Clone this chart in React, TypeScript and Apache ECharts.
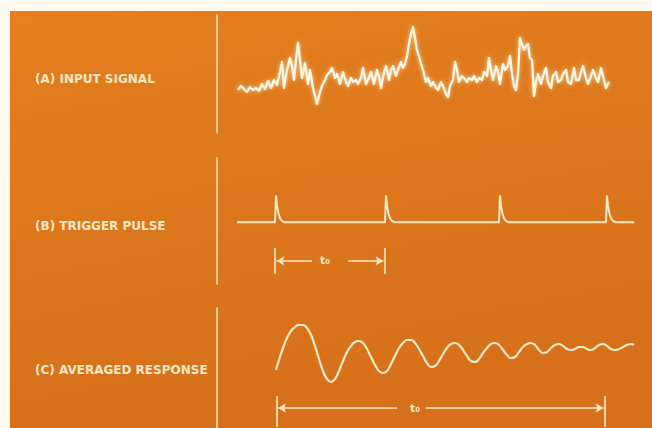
import React, { useEffect, useRef } from "react";
import * as echarts from "echarts";

// ---- Panel A: input signal (time units, amplitude units) ----
const A_TIME = [21,24,27,30,33,36,39,42,45,48,51,54,57,60,63,65,67,70,73,75,77,79,81,83,85,88,91,93,96,98,100,103,105,108,110,113,115,118,120,123,126,129,131,134,136,139,141,144,146,149,151,154,157,160,162,164,167,169,172,174,176,179,181,184,186,188,190,192,194,196,198,200,202,204,206,209,211,214,216,219,221,224,226,229,231,233,236,238,240,242,245,247,250,252,255,257,260,262,265,267,270,272,274,276,279,281,283,286,288,291,293,295,297,299,301,303,305,307,309,311,313,315,317,319,321,324,326,329,331,334,336,339,341,344,346,349,351,354,357,359,362,364,366,369,371,374,376,379,381,384,386,389,392];
const A_VALUE = [-0.8,-0.4,-0.7,-1.0,-0.5,-0.8,-0.6,-0.9,-0.2,-0.7,0.1,-0.6,0.2,-0.3,1.0,2.0,-0.6,1.2,2.4,1.6,0.2,2.2,3.9,2.2,0.4,1.9,-0.2,1.2,-0.6,-1.4,-2.2,-1.0,-0.4,0.2,0.7,1.0,1.4,0.4,0.8,-0.2,1.0,0.0,-0.4,0.4,0.0,0.2,-0.2,0.4,1.4,-0.2,0.2,1.0,-0.2,1.2,0.6,-0.6,1.0,1.6,0.2,1.2,1.6,0.6,1.2,2.0,1.4,1.8,2.6,3.8,4.8,5.5,4.4,3.2,2.6,1.8,1.2,0.0,0.4,-0.4,0.0,-0.6,-0.8,0.0,-0.4,-1.2,-1.5,-0.4,0.2,2.0,1.2,0.0,0.6,0.4,0.0,0.4,0.2,0.6,0.0,0.4,0.2,1.0,0.6,2.4,1.2,0.2,1.6,1.0,-0.2,1.8,1.2,1.6,2.6,0.8,-0.4,-0.8,0.8,4.4,3.8,3.2,3.6,3.8,2.4,2.2,-1.4,0.0,0.8,-0.2,0.6,1.4,0.0,-0.6,0.6,1.0,0.0,0.2,0.8,1.2,0.0,-0.2,1.4,0.2,0.2,1.0,1.6,0.4,-0.2,0.6,1.2,0.4,0.0,1.4,0.6,-0.6,0.0];

// ---- Panel B: trigger pulses ----
const B_TIME = [20,58,59,60,61.5,63,65,68,168,169,170,171.5,173,175,178,282,283,284,285.5,287,289,292,389,390,391,392.5,394,396,399,417];
const B_VALUE = [0,0,1.0,0.62,0.32,0.15,0.05,0,0,1.0,0.62,0.32,0.15,0.05,0,0,1.0,0.62,0.32,0.15,0.05,0,0,1.0,0.62,0.32,0.15,0.05,0,0];

// ---- Panel C: averaged response ----
const C_TIME = [59,62,66,70,74,78,82,86,90,94,98,102,106,110,114,118,122,126,130,134,138,142,146,150,154,158,162,166,170,174,178,182,186,190,194,198,202,206,210,214,218,222,226,230,234,238,242,246,250,254,258,262,266,270,274,278,282,286,290,294,298,302,306,310,314,318,322,326,330,334,338,342,346,350,354,358,362,366,370,374,378,382,386,390,394,398,402,406,410,414,417];
const C_VALUE = [-1.8,-0.8,0.4,1.4,2.1,2.5,2.7,2.7,2.4,1.7,0.6,-0.7,-1.9,-2.7,-3.0,-2.7,-1.9,-0.9,0.0,0.6,1.0,1.1,0.9,0.3,-0.5,-1.3,-1.9,-2.1,-1.9,-1.2,-0.4,0.4,0.9,1.2,1.2,0.9,0.3,-0.4,-1.1,-1.5,-1.4,-0.9,-0.2,0.4,0.8,0.9,0.7,0.2,-0.4,-0.9,-1.0,-0.7,-0.1,0.4,0.8,0.9,0.7,0.2,-0.3,-0.6,-0.5,0.0,0.5,0.8,0.9,0.7,0.2,-0.1,0.0,0.4,0.7,0.8,0.6,0.3,0.2,0.3,0.5,0.5,0.3,0.2,0.4,0.7,0.8,0.6,0.3,0.2,0.3,0.5,0.7,0.8,0.7];

// ---- t0 interval markers ----
const B_PERIOD = [58, 168];       // trigger period (time units)
const B_MARK_LEVEL = -1.44;
const C_SPAN = [59.5, 388];        // averaging window
const C_MARK_LEVEL = -5.6;

const LABELS = ["(A) INPUT SIGNAL", "(B) TRIGGER PULSE", "(C) AVERAGED RESPONSE"];
const T0 = "t₀";

const CREAM = "#FCE9C4";
const TRACE = "#FFF6E4";
const DIVIDER = "#F8DCA2";

function pair(t: number[], v: number[]) {
  return t.map((x, i) => [x, v[i]]);
}

export default function App() {
  const ref = useRef<HTMLDivElement>(null);
  useEffect(() => {
    if (!ref.current) return;
    const chart = echarts.init(ref.current, null, { renderer: "svg" });
    const grids = [
      { left: 217, width: 420, top: 15, height: 118 },
      { left: 217, width: 420, top: 158, height: 126 },
      { left: 217, width: 420, top: 308, height: 120 },
    ];
    const yRanges = [
      [-5.1, 6.7],
      [-2.3, 2.4],
      [-7.6, 4.4],
    ];
    const markStyle = { color: CREAM, width: 1.6, type: "solid" as const };
    const intervalMarks = (span: number[], level: number, gapL: number, gapR: number, barLo: number, barHi: number) => ({
      silent: true,
      symbolSize: [7, 8],
      label: { show: false },
      lineStyle: markStyle,
      data: [
        [{ coord: [span[0], barHi], symbol: "none" }, { coord: [span[0], barLo], symbol: "none" }],
        [{ coord: [span[1], barHi], symbol: "none" }, { coord: [span[1], barLo], symbol: "none" }],
        [{ coord: [span[0] + 1.5, level], symbol: "arrow" }, { coord: [gapL, level], symbol: "none" }],
        [{ coord: [gapR, level], symbol: "none" }, { coord: [span[1] - 1.5, level], symbol: "arrow" }],
      ],
    });
    const t0Point = (t: number, level: number) => ({
      silent: true,
      symbol: "circle",
      symbolSize: 0,
      label: {
        show: true,
        position: "inside",
        formatter: T0,
        color: CREAM,
        fontSize: 11,
        fontWeight: "bold",
        fontFamily: "DejaVu Sans",
      },
      data: [{ coord: [t, level] }],
    });

    chart.setOption({
      animation: false,
      backgroundColor: "#FDF9EF",
      graphic: [
        {
          type: "rect",
          z: -10,
          silent: true,
          shape: { x: 10, y: 11, width: 642, height: 417 },
          style: {
            fill: {
              type: "linear",
              x: 0,
              y: 0,
              x2: 0.3,
              y2: 1,
              colorStops: [
                { offset: 0, color: "#E4801F" },
                { offset: 0.5, color: "#DD771C" },
                { offset: 1, color: "#D6701A" },
              ],
            },
          },
        },
        ...LABELS.map((s, i) => ({
          type: "text",
          left: 35,
          top: [73, 220, 364][i],
          silent: true,
          style: {
            text: s,
            fill: CREAM,
            font: "bold 12px 'DejaVu Sans'",
          },
        })),
      ],
      grid: grids,
      xAxis: grids.map((_, i) => ({
        type: "value",
        gridIndex: i,
        min: 0,
        max: 420,
        show: false,
      })),
      yAxis: grids.map((_, i) => ({
        type: "value",
        gridIndex: i,
        min: yRanges[i][0],
        max: yRanges[i][1],
        axisLine: { show: true, onZero: false, lineStyle: { color: DIVIDER, width: 1.6 } },
        axisTick: { show: false },
        axisLabel: { show: false },
        splitLine: { show: false },
      })),
      series: [
        {
          type: "line",
          xAxisIndex: 0,
          yAxisIndex: 0,
          data: pair(A_TIME, A_VALUE),
          showSymbol: false,
          lineStyle: {
            color: TRACE,
            width: 2.3,
            join: "round",
            shadowBlur: 4,
            shadowColor: "rgba(255,240,205,0.7)",
          },
        },
        {
          type: "line",
          xAxisIndex: 1,
          yAxisIndex: 1,
          data: pair(B_TIME, B_VALUE),
          showSymbol: false,
          lineStyle: { color: CREAM, width: 2 },
          markLine: intervalMarks(B_PERIOD, B_MARK_LEVEL, 95, 131, -1.93, -0.96),
          markPoint: t0Point(108, B_MARK_LEVEL),
        },
        {
          type: "line",
          xAxisIndex: 2,
          yAxisIndex: 2,
          data: pair(C_TIME, C_VALUE),
          showSymbol: false,
          smooth: true,
          lineStyle: { color: CREAM, width: 2.2 },
          markLine: intervalMarks(C_SPAN, C_MARK_LEVEL, 180, 209, -7.5, -4.4),
          markPoint: t0Point(198, C_MARK_LEVEL),
        },
      ],
    });
    return () => chart.dispose();
  }, []);
  return (
    <div
      ref={ref}
      style={{ position: "fixed", left: 0, top: 0, width: 652, height: 428 }}
    />
  );
}
